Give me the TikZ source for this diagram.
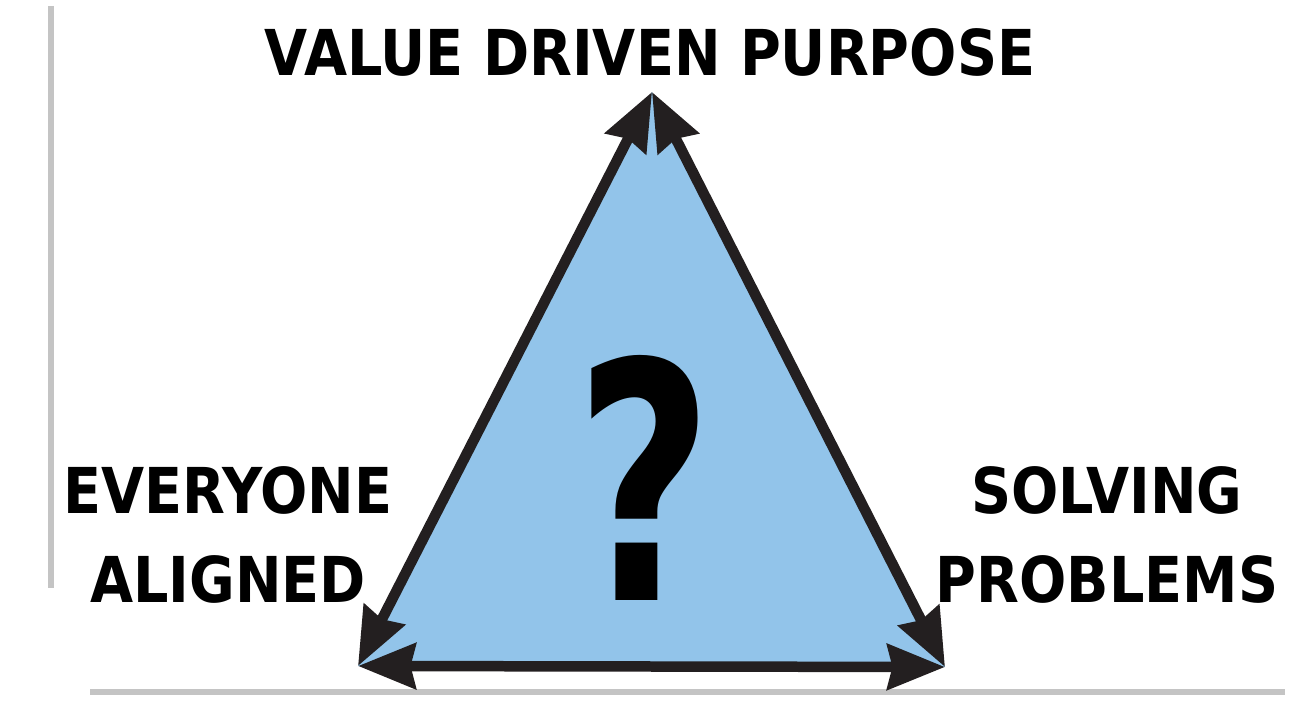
\documentclass[tikz,border=0pt]{standalone}
\usepackage{fontspec}
\setmainfont{DejaVu Sans}
\usepackage{xcolor}
\usetikzlibrary{arrows.meta, positioning}

\definecolor{triblue}{HTML}{92C4EA}
\definecolor{edgegray}{HTML}{C4C4C4}
\definecolor{inkdark}{HTML}{231F20}

\begin{document}
\begin{tikzpicture}[x=0.02cm, y=-0.02cm,
  label/.style={font=\fontsize{36}{51}\selectfont\bfseries, align=center, inner sep=0pt, xscale=0.88, transform shape},
  side/.style={line width=0.21cm, draw=inkdark, {Stealth[length=1.15cm, width=0.9cm, inset=0.1cm]}-{Stealth[length=1.15cm, width=0.9cm, inset=0.1cm]}}]
\useasboundingbox (0,0) rectangle (1292,702);

% frame remains
\draw[edgegray, line width=3pt] (51,6) -- (51,588);
\draw[edgegray, line width=3pt] (90,692) -- (1285,692);

% corners of the triangle
\coordinate (top) at (652,92);
\coordinate (left) at (358,666);
\coordinate (right) at (945,667);

\fill[triblue] (top) -- (left) -- (right) -- cycle;

\node[font=\fontsize{188}{188}\selectfont\bfseries, inner sep=0pt, xscale=0.72, transform shape] (quest) at (644,478) {?};

\draw[side] (left) -- (top);
\draw[side] (top) -- (right);
\draw[side] (left) -- (right);

% corner labels
\node[label] (purpose) at (650,52) {VALUE DRIVEN PURPOSE};
\node[label] (aligned) at (228,535) {EVERYONE\\ALIGNED};
\node[label] (problems) at (1107,535) {SOLVING\\PROBLEMS};
\end{tikzpicture}
\end{document}
